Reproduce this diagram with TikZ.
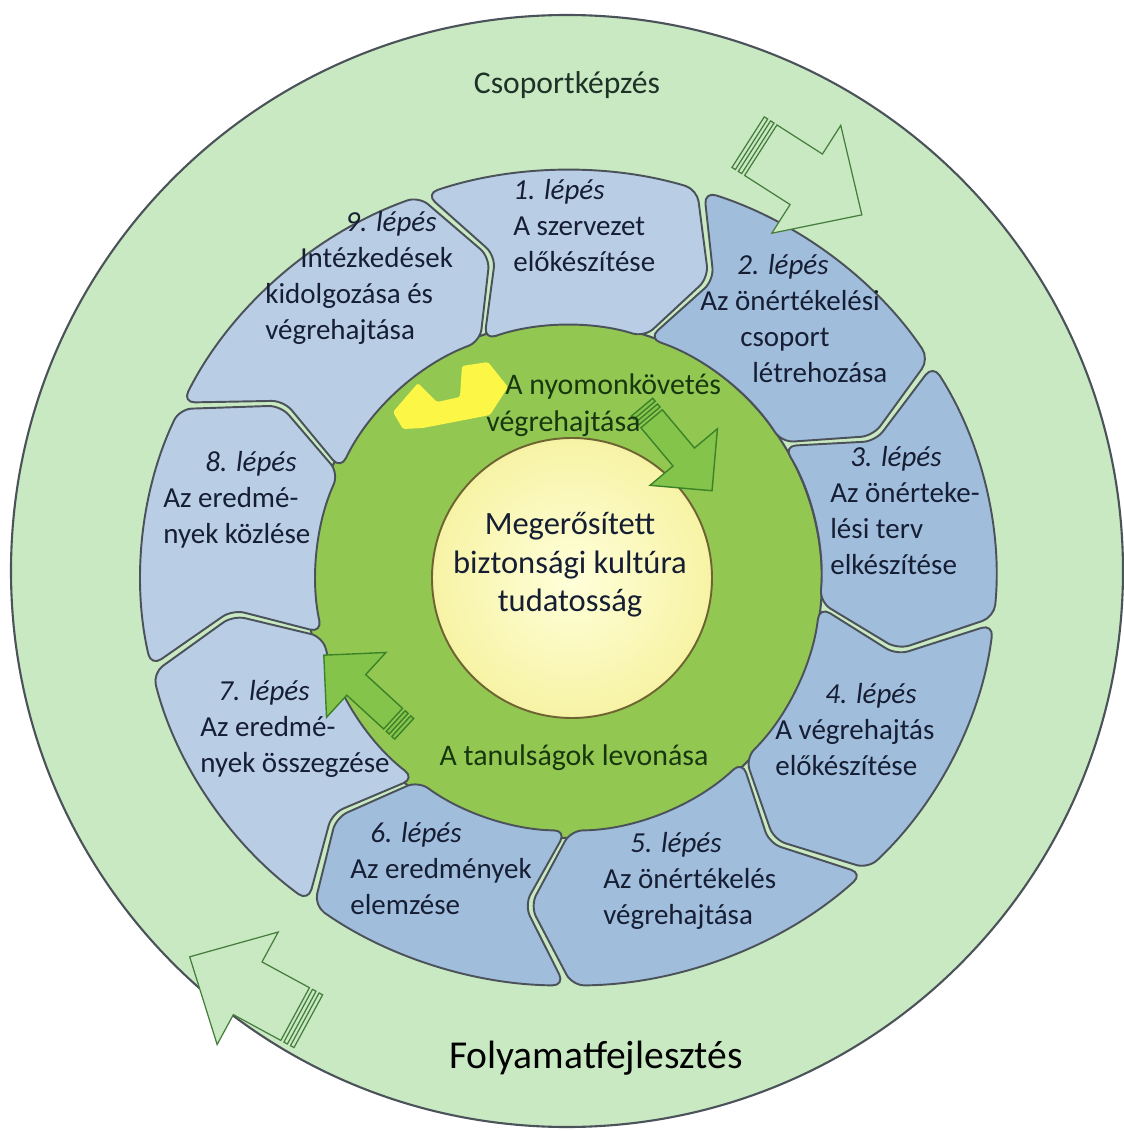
\documentclass[tikz,border=0pt]{standalone}
\usepackage{fontspec}
\setmainfont{Carlito}

\definecolor{ogrn}{RGB}{200,233,194}
\definecolor{igrn}{RGB}{146,200,82}
\definecolor{agrn}{RGB}{132,196,74}
\definecolor{lylw}{RGB}{255,255,218}
\definecolor{dylw}{RGB}{247,243,165}
\definecolor{bylw}{RGB}{252,246,70}
\definecolor{lblu}{RGB}{185,205,229}
\definecolor{dblu}{RGB}{161,189,220}
\definecolor{dgry}{RGB}{75,82,90}
\definecolor{navy}{RGB}{22,30,52}
\definecolor{lgrn}{RGB}{70,125,60}
\definecolor{fgrn}{RGB}{25,55,15}
\definecolor{cgry}{RGB}{30,50,40}
\tikzstyle{cycle chart}=[
    ring/.style={draw=dgry,line width=1.2pt},
    block shape/.style={draw=dgry,line width=1.1pt,rounded corners=7pt},
    step label/.style={font={\fontsize{16.5}{20.5}\selectfont},text=navy,anchor=west,align=left,inner sep=0pt},
    inner label/.style={font={\fontsize{17}{21}\selectfont},text=fgrn,inner sep=0pt},
    arrow part/.style={draw=lgrn,line width=0.7pt,fill=ogrn},
]
\newcommand{\stepblock}[3]{
    \pgfmathsetmacro{\startA}{#1-0.5}
    \pgfmathsetmacro{\endA}{#2+0.5}
    \path[block shape,fill=#3] (\startA:8.55 and 8.15)
        arc[start angle=\startA,end angle=\endA,x radius=8.55,y radius=8.15]
        -- (\endA-7:6.75 and 6.6)
        -- (\endA:5.05)
        arc[start angle=\endA,end angle=\startA,radius=5.05]
        -- (\startA-7:6.75 and 6.6)
        -- cycle;
}
\newcommand{\stripearrow}[5][]{
    \begin{scope}[#1]
    \pgfmathsetmacro{\tailX}{-#2/2}
    \pgfmathsetmacro{\neckX}{#2/2-#5}
    \path[arrow part] (\tailX,-#3) rectangle ++(0.08,2*#3);
    \path[arrow part] (\tailX+0.15,-#3) rectangle ++(0.08,2*#3);
    \path[arrow part] (\tailX+0.3,-#3) -- (\neckX,-#3) -- (\neckX,-#4)
        -- (#2/2,0) -- (\neckX,#4) -- (\neckX,#3) -- (\tailX+0.3,#3) -- cycle;
    \end{scope}
}

\begin{document}
\begin{tikzpicture}[cycle chart]
    \useasboundingbox (-11.32,-11.10) rectangle (11.16,11.52);

    \path[ring,fill=ogrn] (0.02,0.10) circle (11.12);
    \path[ring,fill=igrn] (-0.04,-0.08) circle (5.16);

    \begin{scope}[shift={(0.05,-0.04)}]
    \foreach \s/\e/\c in {110/72/lblu,72/32/dblu,32/-6/dblu,-6/-46/dblu,-46/-90/dblu,-90/-127/dblu,-127/-167/lblu,-167/-205/lblu,155/110/lblu}{
        \stepblock{\s}{\e}{\c}
    }
    \end{scope}

    \stripearrow[shift={(4.78,7.95)},rotate=-32.6]{2.7}{0.6}{1.28}{1.32}
    \stripearrow[shift={(-6.34,-8.26)},rotate=151.5]{2.7}{0.6}{1.28}{1.32}

    \path[draw={rgb,255:red,110;green,100;blue,50},line width=1.1pt,inner color=lylw,outer color=dylw] (0.12,-0.04) circle (2.8);

    \stripearrow[shift={(2.22,2.54)},rotate=-50,arrow part/.style={draw={rgb,255:red,60;green,130;blue,40},line width=0.8pt,fill=agrn}]{2.18}{0.28}{0.88}{0.88}
    \stripearrow[shift={(-4.04,-2.32)},rotate=137.5,arrow part/.style={draw={rgb,255:red,60;green,130;blue,40},line width=0.8pt,fill=agrn}]{2.18}{0.28}{0.88}{0.88}

    \path[fill=bylw,rounded corners=1pt] (-3.46,3.28) -- (-2.96,3.86) -- (-2.58,3.48) -- (-2.12,3.58)
        -- (-2.08,4.20) -- (-1.56,4.28) -- (-1.16,3.78) -- (-1.52,3.22) -- (-2.86,2.96) -- (-3.26,2.94) -- cycle;

    \node[font={\fontsize{18}{22}\selectfont},text=cgry] (grouping) at (0.02,9.82) {Csoportképzés};
    \node[font={\fontsize{22.5}{27}\selectfont}] (improve) at (0.6,-9.64) {Folyamatfejlesztés};

    \node[step label] (s1) at (-1.06,7.00) {\textit{1. lépés}\\A szervezet\\előkészítése};
    \node[step label] (s2) at (2.68,5.14) {\hspace*{0.74cm}\textit{2. lépés}\\Az önértékelési\\\hspace*{0.8cm}csoport\\\hspace*{1.04cm}létrehozása};
    \node[step label] (s3) at (5.28,1.30) {\hspace*{0.4cm}\textit{3. lépés}\\Az önérteke-\\lési terv\\elkészítése};
    \node[step label] (s4) at (4.18,-3.08) {\hspace*{1.0cm}\textit{4. lépés}\\A végrehajtás\\előkészítése};
    \node[step label] (s5) at (0.74,-6.10) {\hspace*{0.54cm}\textit{5. lépés}\\Az önértékelés\\végrehajtása};
    \node[step label] (s6) at (-4.32,-5.86) {\hspace*{0.4cm}\textit{6. lépés}\\Az eredmények\\elemzése};
    \node[step label] (s7) at (-7.32,-3.06) {\hspace*{0.36cm}\textit{7. lépés}\\Az eredmé-\\nyek összegzése};
    \node[step label] (s8) at (-8.06,1.52) {\hspace*{0.84cm}\textit{8. lépés}\\Az eredmé-\\nyek közlése};
    \node[step label] (s9) at (-6.02,5.96) {\hspace*{1.6cm}\textit{9. lépés}\\\hspace*{0.7cm}Intézkedések\\kidolgozása és\\végrehajtása};

    \node[inner label,anchor=west,align=left] (monitor) at (-1.60,3.42) {\hspace*{0.38cm}A nyomonkövetés\\végrehajtása};
    \node[inner label] (lessons) at (0.16,-3.64) {A tanulságok levonása};
    \node[font={\fontsize{18.5}{22}\selectfont},text=navy,align=center,inner sep=0pt] (core) at (0.08,0.22) {Megerősített\\biztonsági kultúra\\tudatosság};
\end{tikzpicture}
\end{document}
